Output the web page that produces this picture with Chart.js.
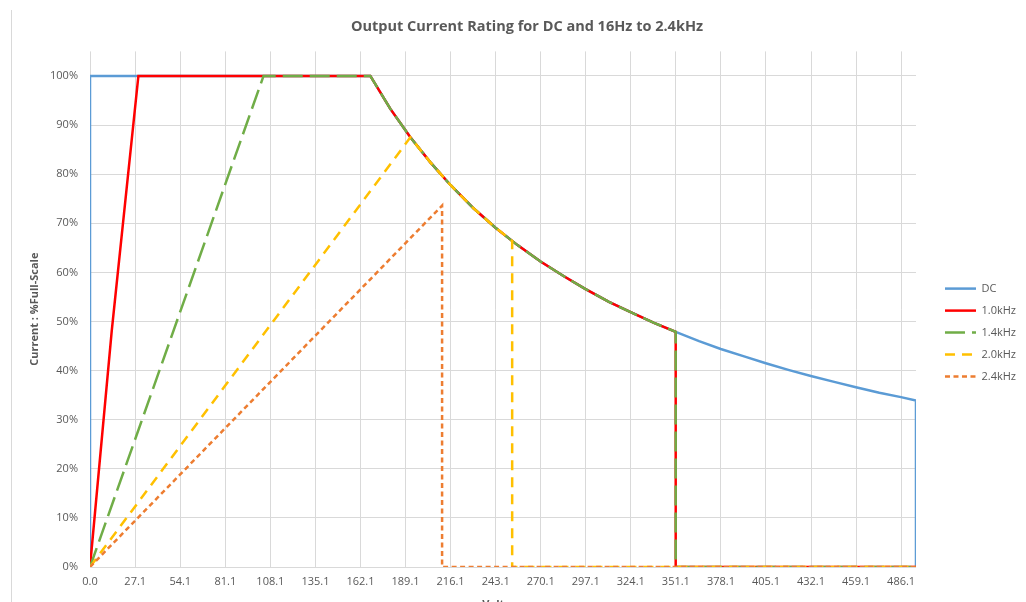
<!DOCTYPE html>
<html lang="en">
<head>
<meta charset="UTF-8" />
<title>Output Current Rating</title>
<script src="https://cdn.jsdelivr.net/npm/chart.js"></script>
<style>
  html, body { margin: 0; padding: 0; background: #fff; overflow: hidden; }
  /* thin outer frame of the chart object */
  .frame { position: absolute; left: 11px; top: 10px; width: 1100px; height: 700px; border-left: 1px solid #d9d9d9; }
  .wrap { position: absolute; left: 0; top: 0; width: 1026px; height: 620px; }
</style>
</head>
<body>
<div class="frame"></div>
<div class="wrap"><canvas id="chart"></canvas></div>
<script>
// x axis tick labels (volts) and y axis ticks (% full scale)
const xTicks = [0.0, 27.1, 54.1, 81.1, 108.1, 135.1, 162.1, 189.1, 216.1, 243.1, 270.1, 297.1, 324.1, 351.1, 378.1, 405.1, 432.1, 459.1, 486.1];
const yTicks = [0, 10, 20, 30, 40, 50, 60, 70, 80, 90, 100];

// DC
const dcVolt = [0, 0, 168, 180, 192, 204, 216, 230, 243, 256, 270, 284, 297, 311, 324, 338, 351, 365, 378, 392, 405, 419, 432, 446, 459, 473, 486, 495, 495];
const dcCurr = [0, 100, 100, 93.3, 87.5, 82.4, 77.8, 73.0, 69.1, 65.6, 62.2, 59.2, 56.6, 54.0, 51.9, 49.7, 47.9, 46.0, 44.4, 42.9, 41.5, 40.1, 38.9, 37.7, 36.6, 35.5, 34.6, 33.9, 0];

// 1.0kHz
const k10Volt = [0, 13, 29, 168, 180, 192, 204, 216, 230, 243, 256, 270, 284, 297, 311, 324, 338, 351, 351, 495];
const k10Curr = [0, 48, 100, 100, 93.3, 87.5, 82.4, 77.8, 73.0, 69.1, 65.6, 62.2, 59.2, 56.6, 54.0, 51.9, 49.7, 47.9, 0, 0];

// 1.4kHz
const k14Volt = [0, 104, 168, 180, 192, 204, 216, 230, 243, 256, 270, 284, 297, 311, 324, 338, 351, 351, 495];
const k14Curr = [0, 100, 100, 93.3, 87.5, 82.4, 77.8, 73.0, 69.1, 65.6, 62.2, 59.2, 56.6, 54.0, 51.9, 49.7, 47.9, 0, 0];

// 2.0kHz
const k20Volt = [0, 192, 204, 216, 230, 243, 253, 253, 495];
const k20Curr = [0, 87.5, 82.4, 77.8, 73.0, 69.1, 66.4, 0, 0];

// 2.4kHz
const k24Volt = [0, 211, 211, 495];
const k24Curr = [0, 73.6, 0, 0];

const FONT = "'Open Sans', 'DejaVu Sans', sans-serif";
const GREY = '#595959';
const LINE_W = 2.5;

function pts(xs, ys) {
  return xs.map((x, i) => ({ x: x, y: ys[i] }));
}

// legend entries take width and dash from the dataset line
function legendLabels(chart) {
  const items = Chart.defaults.plugins.legend.labels.generateLabels(chart);
  items.forEach(item => {
    const ds = chart.data.datasets[item.datasetIndex];
    item.lineWidth = LINE_W;
    item.lineDash = ds.borderDash || [];
    item.strokeStyle = ds.borderColor;
  });
  return items;
}

const ctx = document.getElementById('chart');

new Chart(ctx, {
  type: 'line',
  data: {
    datasets: [
      { label: 'DC', data: pts(dcVolt, dcCurr), borderColor: '#5B9BD5', backgroundColor: '#5B9BD5', order: 5 },
      { label: '1.0kHz', data: pts(k10Volt, k10Curr), borderColor: '#FF0000', backgroundColor: '#FF0000', order: 4 },
      { label: '1.4kHz', data: pts(k14Volt, k14Curr), borderColor: '#70AD47', backgroundColor: '#70AD47', borderDash: [20, 7], order: 3 },
      { label: '2.0kHz', data: pts(k20Volt, k20Curr), borderColor: '#FFC000', backgroundColor: '#FFC000', borderDash: [10, 7], order: 2 },
      { label: '2.4kHz', data: pts(k24Volt, k24Curr), borderColor: '#ED7D31', backgroundColor: '#ED7D31', borderDash: [5, 3.5], order: 1 }
    ]
  },
  options: {
    responsive: true,
    maintainAspectRatio: false,
    animation: false,
    layout: { padding: { left: 28, right: 0, top: 0, bottom: 0 } },
    elements: {
      point: { radius: 0, hoverRadius: 0 },
      line: { tension: 0, borderWidth: LINE_W, fill: false }
    },
    plugins: {
      title: {
        display: true,
        text: 'Output Current Rating for DC and 16Hz to 2.4kHz',
        color: GREY,
        font: { family: FONT, size: 14.5, weight: 'bold' },
        padding: { top: 18, bottom: 16 }
      },
      legend: {
        position: 'right',
        // empty title just pushes the entries down a bit
        title: { display: true, text: ' ', font: { family: FONT, size: 11 }, padding: { top: 32, bottom: 0 } },
        labels: {
          usePointStyle: true,
          pointStyle: 'line',
          pointStyleWidth: 31,
          padding: 11,
          color: GREY,
          font: { family: FONT, size: 11 },
          generateLabels: legendLabels,
          sort: (a, b) => a.datasetIndex - b.datasetIndex
        }
      },
      tooltip: { enabled: false }
    },
    scales: {
      x: {
        type: 'linear',
        min: 0,
        max: 495,
        afterBuildTicks: s => { s.ticks = xTicks.map(v => ({ value: v })); },
        afterFit: s => { s.height = 53; },
        grid: { color: '#d9d9d9', drawTicks: false },
        border: { display: false },
        ticks: {
          autoSkip: false,
          maxRotation: 0,
          padding: 8,
          color: GREY,
          font: { family: FONT, size: 11 },
          callback: v => v.toFixed(1)
        },
        title: {
          display: true,
          text: 'Voltage',
          color: GREY,
          font: { family: FONT, size: 11, weight: 'bold' },
          padding: { top: 4, bottom: 9 }
        }
      },
      y: {
        min: 0,
        max: 105,
        afterBuildTicks: s => { s.ticks = yTicks.map(v => ({ value: v })); },
        afterFit: s => { s.width = 62; },
        grid: { color: '#d9d9d9', drawTicks: false },
        border: { display: false },
        ticks: {
          padding: 12,
          color: GREY,
          font: { family: FONT, size: 11 },
          callback: v => v + '%'
        },
        title: {
          display: true,
          text: 'Current : %Full-Scale',
          color: GREY,
          font: { family: FONT, size: 11, weight: 'bold' },
          padding: { top: 0, bottom: 4 }
        }
      },
      // empty axis that keeps a gap between the plot and the legend
      gap: {
        position: 'right',
        display: true,
        grid: { display: false },
        border: { display: false },
        ticks: { display: false },
        afterFit: s => { s.width = 18; }
      }
    }
  }
});
</script>
</body>
</html>
